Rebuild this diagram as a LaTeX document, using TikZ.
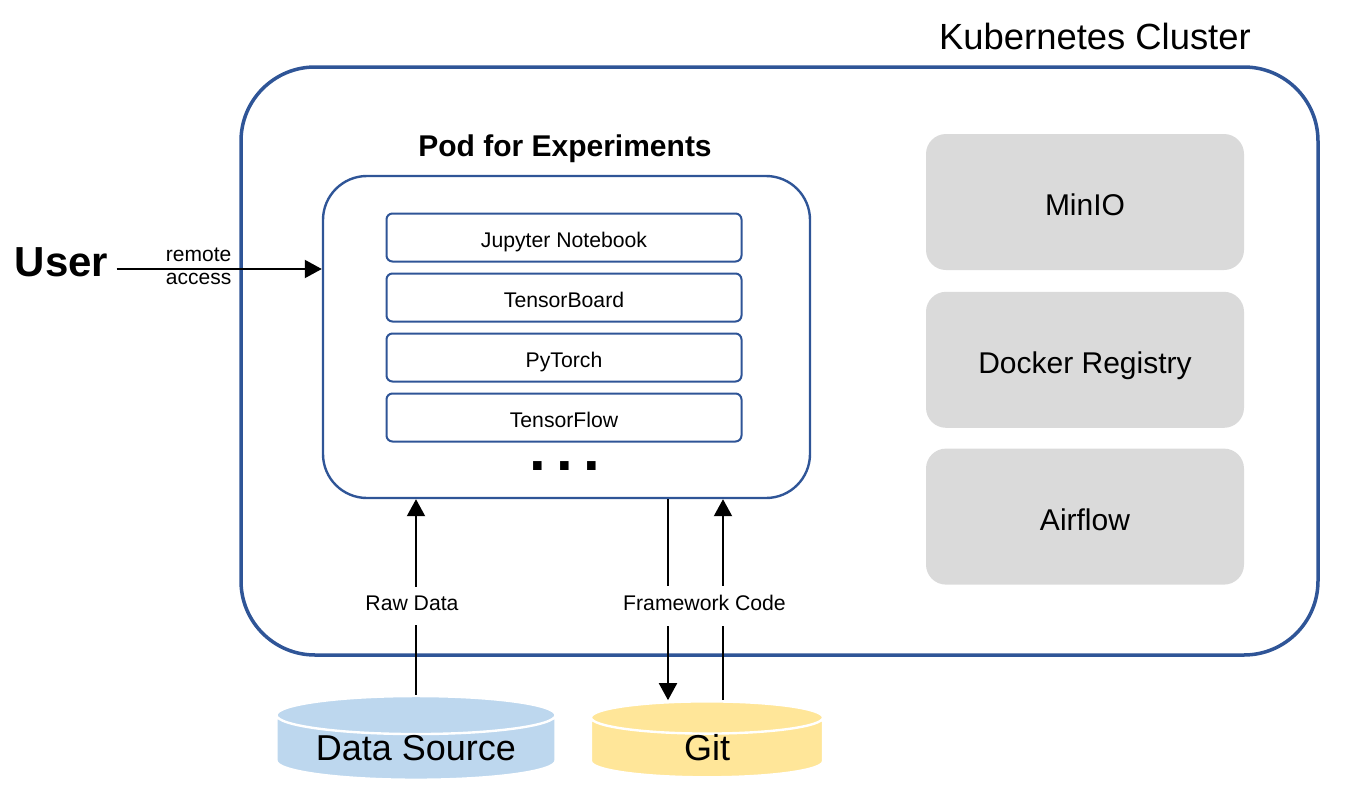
\documentclass[tikz,border=0pt]{standalone}
\usepackage{fontspec}
\setmainfont{Liberation Sans}
\usepackage{xcolor}
\definecolor{kblue}{HTML}{2F5597}
\definecolor{svcgray}{HTML}{DADADA}
\definecolor{dsblue}{HTML}{BDD7EE}
\definecolor{gityellow}{HTML}{FFE699}
\usepackage{tikz}
\usetikzlibrary{positioning,arrows.meta,shapes.geometric}
\tikzset{
  cluster/.style={rectangle, draw=kblue, line width=1.75pt, rounded corners=37pt,
                  minimum width=538.5pt, minimum height=294pt},
  podbox/.style ={rectangle, draw=kblue, line width=1.2pt, rounded corners=22pt,
                  minimum width=243.5pt, minimum height=161pt},
  tool/.style   ={rectangle, draw=kblue, line width=1pt, rounded corners=3pt,
                  minimum width=177.5pt, minimum height=24pt, inner sep=0pt,
                  text height=9.6pt, text depth=0pt, font=\fontsize{10.6}{12}\selectfont},
  svc/.style    ={rectangle, fill=svcgray, rounded corners=10pt, minimum width=159pt,
                  minimum height=68pt, text height=13.7pt, text depth=0pt,
                  font=\fontsize{15}{18}\selectfont},
  store/.style  ={cylinder, shape border rotate=90, draw=white, line width=1.2pt,
                  cylinder uses custom fill, inner sep=0pt, font=\fontsize{18}{20}\selectfont},
  arr/.style    ={-{Triangle[length=8.5pt, width=9pt]}, line width=1pt},
  el/.style     ={font=\fontsize{10.6}{12}\selectfont, fill=white, inner sep=4.5pt, text depth=3pt},
}
\begin{document}
\begin{tikzpicture}[x=0.5pt, y=-0.5pt]
  \useasboundingbox (0,0) rectangle (1346,798);
  % cluster and pod
  \node[cluster] (k8s) at (779.5,361) {};
  \node[font=\fontsize{18.2}{20}\selectfont] (k8stitle) at (1095,36) {Kubernetes Cluster};
  \node[podbox] (pod) at (566.5,337) {};
  \node[font=\fontsize{15}{18}\selectfont\bfseries] (podtitle) at (565,149) {Pod for Experiments};
  \node[tool] (jupyter) at (564,237.5) {Jupyter Notebook};
  \node[tool, below=5pt of jupyter] (tboard) {TensorBoard};
  \node[tool, below=5pt of tboard] (pytorch) {PyTorch};
  \node[tool, below=5pt of pytorch] (tflow) {TensorFlow};
  \node[font=\fontsize{30}{30}\selectfont\bfseries, inner sep=0pt] (dots) at (565,466) {.\,.\,.};
  % services
  \node[svc] (minio) at (1085,202) {MinIO};
  \node[svc, below=10.5pt of minio] (docker) {Docker Registry};
  \node[svc, below=10pt of docker] (airflow) {Airflow};
  % user
  \node[font=\fontsize{21}{24}\selectfont\bfseries, inner sep=4pt] (user) at (61.5,262) {User};
  \draw[arr] ([yshift=-3.5pt]user.east) -- ([yshift=-3.5pt]user.east -| pod.west)
    node[pos=0.4, yshift=1.5pt, align=center, font=\fontsize{10.5}{11.5}\selectfont] (remote) {remote\\access};
  % storage
  \node[store, aspect=0.19, cylinder end fill=dsblue, cylinder body fill=dsblue,
        minimum width=139.5pt, minimum height=37pt] (ds) at (416,748) {Data Source};
  \node[store, aspect=0.7, cylinder end fill=gityellow, cylinder body fill=gityellow,
        minimum width=116pt, minimum height=37pt] (git) at (707,748) {Git};
  \coordinate (gdown) at ([xshift=-19.5pt]git.north);
  \coordinate (gup) at ([xshift=8pt]git.north);
  \draw[arr] (ds.north) -- (ds.north |- pod.south);
  \draw[arr] (gdown |- pod.south) -- (gdown);
  \draw[arr] (gup) -- (gup |- pod.south);
  \node[el] (rawlbl) at (412,606) {Raw Data};
  \node[el] (fwlbl) at (704.5,606) {Framework Code};
\end{tikzpicture}
\end{document}
